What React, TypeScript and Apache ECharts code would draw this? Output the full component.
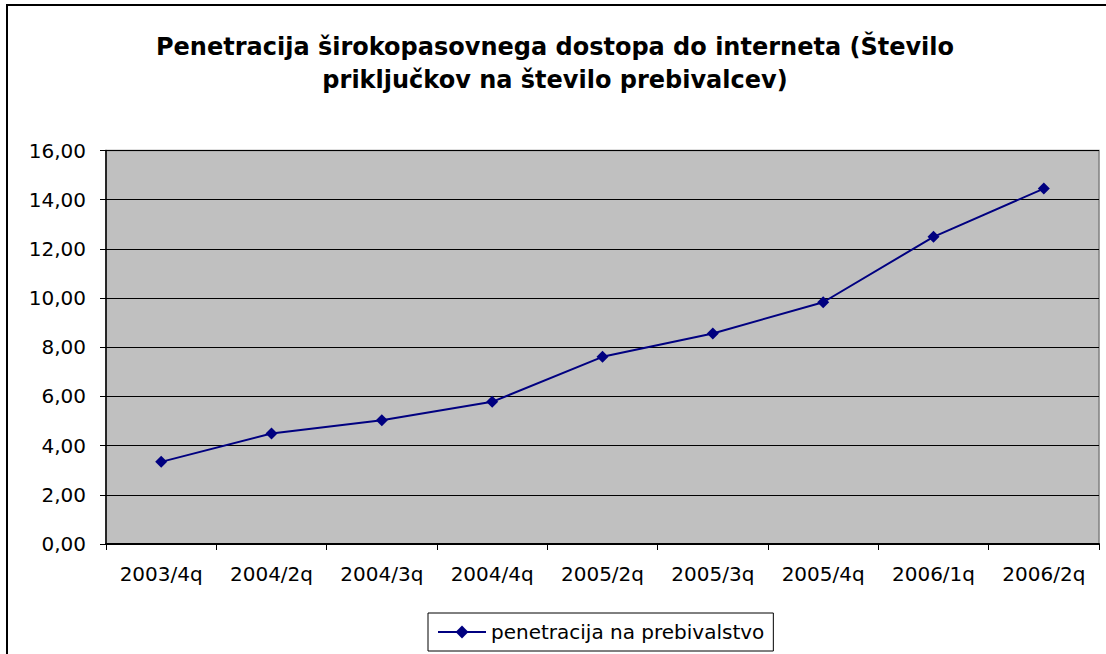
import React, { useEffect, useRef } from "react";
import * as echarts from "echarts";

const titleText = "Penetracija širokopasovnega dostopa do interneta (Število\npriključkov na število prebivalcev)";
const seriesName = "penetracija na prebivalstvo";
const categories = ["2003/4q", "2004/2q", "2004/3q", "2004/4q", "2005/2q", "2005/3q", "2005/4q", "2006/1q", "2006/2q"];
const values = [3.34, 4.49, 5.03, 5.78, 7.61, 8.56, 9.83, 12.49, 14.45];
const yMin = 0;
const yMax = 16;
const yInterval = 2;

export default function App() {
  const ref = useRef<HTMLDivElement>(null);
  useEffect(() => {
    if (!ref.current) return;
    const chart = echarts.init(ref.current, undefined, { renderer: "svg" });
    const font = "'DejaVu Sans', sans-serif";
    chart.setOption({
      animation: false,
      backgroundColor: "#ffffff",
      title: {
        text: titleText,
        left: 555,
        top: 30,
        padding: 0,
        textAlign: "center",
        textStyle: {
          fontFamily: font,
          fontWeight: "bold",
          fontSize: 24,
          lineHeight: 33,
          color: "#000",
          align: "center",
        },
      },
      graphic: [
        {
          type: "rect",
          shape: { x: 7, y: 5, width: 1120, height: 670 },
          style: { fill: "none", stroke: "#000", lineWidth: 2 },
          silent: true,
        },
      ],
      grid: {
        left: 106,
        top: 150.5,
        right: 7,
        bottom: 110,
        show: true,
        backgroundColor: "#C0C0C0",
        borderColor: "#808080",
        borderWidth: 1.5,
      },
      legend: {
        left: 428,
        top: 613,
        padding: [9, 9, 9, 9],
        borderColor: "#000",
        borderWidth: 1,
        backgroundColor: "#fff",
        itemWidth: 48,
        itemHeight: 16,
        itemGap: 8,
        textStyle: { fontFamily: font, fontSize: 20, color: "#000" },
        data: [seriesName],
      },
      xAxis: {
        type: "category",
        data: categories,
        boundaryGap: true,
        axisLine: { show: true, lineStyle: { color: "#000", width: 2 } },
        axisTick: { show: true, inside: false, length: 6, alignWithLabel: false, lineStyle: { color: "#000" } },
        axisLabel: { fontFamily: font, fontSize: 20, color: "#000", margin: 20, interval: 0 },
        splitLine: { show: false },
      },
      yAxis: {
        type: "value",
        min: yMin,
        max: yMax,
        interval: yInterval,
        axisLine: { show: true, lineStyle: { color: "#000", width: 1.5 } },
        axisTick: { show: true, inside: false, length: 6, lineStyle: { color: "#000" } },
        axisLabel: {
          fontFamily: font,
          fontSize: 20,
          color: "#000",
          margin: 20,
          formatter: (v: number) => v.toFixed(2).replace(".", ","),
        },
        splitLine: { show: true, lineStyle: { color: "#000", width: 1 } },
      },
      series: [
        {
          name: seriesName,
          type: "line",
          data: values,
          symbol: "diamond",
          symbolSize: 12,
          lineStyle: { color: "#000080", width: 2 },
          itemStyle: { color: "#000080" },
        },
      ],
    });
    return () => chart.dispose();
  }, []);
  return (
    <div
      ref={ref}
      style={{ position: "absolute", left: 0, top: 0, width: 1106, height: 654 }}
    />
  );
}
